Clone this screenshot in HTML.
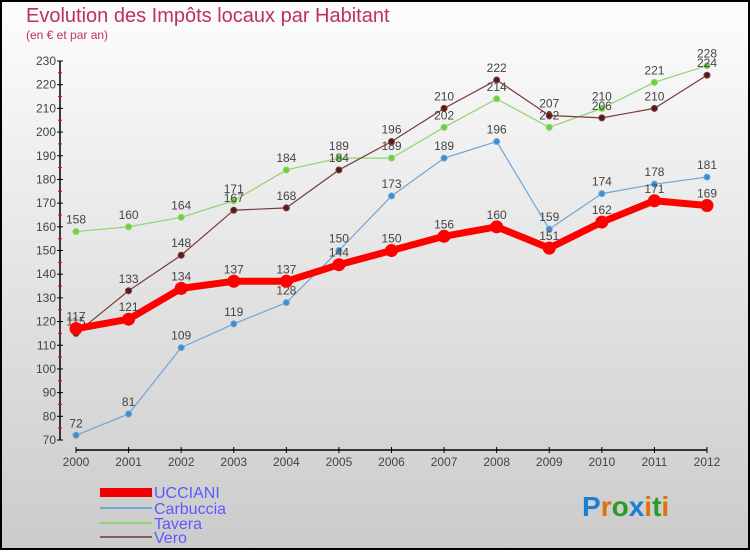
<!DOCTYPE html>
<html><head><meta charset="utf-8"><style>
body{margin:0;}
#c{width:750px;height:550px;position:relative;font-family:"Liberation Sans",sans-serif;}
</style></head><body>
<div id="c">
<svg id="s" width="750" height="550" xmlns="http://www.w3.org/2000/svg">
<defs><linearGradient id="bg" x1="0" y1="0" x2="0" y2="1"><stop offset="0" stop-color="#fdfdfd"/><stop offset="1" stop-color="#cbcbcb"/></linearGradient></defs>
<rect x="1" y="1" width="748" height="548" fill="url(#bg)" stroke="#000" stroke-width="2"/>
<text x="26" y="22" font-size="20" fill="#c0305a">Evolution des Impôts locaux par Habitant</text>
<text x="26" y="39" font-size="12" fill="#c0305a">(en € et par an)</text>
<g id="axes"></g><g id="series"></g>
<g font-size="16" fill="#5a5aff">
<rect x="100" y="488" width="52" height="9" fill="#e00"/>
<text x="154" y="498" fill="#5a5aff">UCCIANI</text>
<rect x="100" y="507" width="52" height="2" fill="#6fa6d6"/>
<text x="154" y="514" fill="#5a5aff">Carbuccia</text>
<rect x="100" y="522" width="52" height="2" fill="#8fd46f"/>
<text x="154" y="529" fill="#5a5aff">Tavera</text>
<rect x="100" y="536" width="52" height="2" fill="#8a5a5a"/>
<text x="154" y="543" fill="#5a5aff">Vero</text>
</g>
<text x="582" y="516" font-size="28" font-weight="bold"><tspan fill="#1a7fd0">P</tspan><tspan fill="#e07010">r</tspan><tspan fill="#2a9a2a">o</tspan><tspan fill="#1a7fd0">x</tspan><tspan fill="#e07010">i</tspan><tspan fill="#2a9a2a">t</tspan><tspan fill="#e07010">i</tspan></text>
</svg></div>
<script>
const years=[2000,2001,2002,2003,2004,2005,2006,2007,2008,2009,2010,2011,2012];
const ucciani=[117,121,134,137,137,144,150,156,160,151,162,171,169];
const carbuccia=[72,81,109,119,128,150,173,189,196,159,174,178,181];
const tavera=[158,160,164,171,184,189,189,202,214,202,210,221,228];
const vero=[115,133,148,167,168,184,196,210,222,207,206,210,224];
const yTicks=[70,80,90,100,110,120,130,140,150,160,170,180,190,200,210,220,230];
const NS="http://www.w3.org/2000/svg";
const X=i=>76+i*(707-76)/(years.length-1);
const Y=v=>440-(v-70)*(440-61)/160;
function mk(t,a,p){const e=document.createElementNS(NS,t);for(const k in a)e.setAttribute(k,a[k]);p.appendChild(e);return e;}
const ax=document.getElementById('axes');
let l=mk('line',{x1:60,y1:61,x2:60,y2:440,stroke:'#000','stroke-width':1.5},ax);


yTicks.forEach(v=>{
 const t=mk('text',{x:56,y:Y(v)+4,'font-size':12,fill:'#444','text-anchor':'end'},ax);t.textContent=v;
 
 
 mk('line',{x1:57,y1:Y(v),x2:63,y2:Y(v),stroke:'#000'},ax);
 if(v<230) mk('line',{x1:58,y1:Y(v+5),x2:62,y2:Y(v+5),stroke:'#e00'},ax);
});
l=mk('line',{x1:76,y1:450,x2:707,y2:450,stroke:'#000','stroke-width':1.5},ax);


years.forEach((y,i)=>{
 mk('line',{x1:X(i),y1:447,x2:X(i),y2:453,stroke:'#000'},ax);
 const t=mk('text',{x:X(i),y:466,'font-size':12,fill:'#444','text-anchor':'middle'},ax);t.textContent=y;
 
 
});
const sg=document.getElementById('series');
function draw(d,col,w,r,name,dot){
 const g=mk('g',{},sg);
 
 
 const p=mk('polyline',{points:d.map((v,i)=>X(i)+','+Y(v)).join(' '),fill:'none',stroke:col,'stroke-width':w,'stroke-linejoin':'round'},g);
 
 
 d.forEach((v,i)=>{
  const c=mk('circle',{cx:X(i),cy:Y(v),r:r,fill:dot,stroke:col},g);
  
  
  const t=mk('text',{x:X(i),y:Y(v)-8,'font-size':12,fill:'#444','text-anchor':'middle'},g);t.textContent=v;
  
  
 });
}
draw(carbuccia,'#6fa6d6',1.2,3,'carbuccia','#3b8fd0');
draw(tavera,'#8fd46f',1.2,3,'tavera','#6fcf3f');
draw(vero,'#7a3a3a',1.2,3,'vero','#5a1a1a');
draw(ucciani,'#f00',7,6,'ucciani','#f00');
</script>
</body></html>
